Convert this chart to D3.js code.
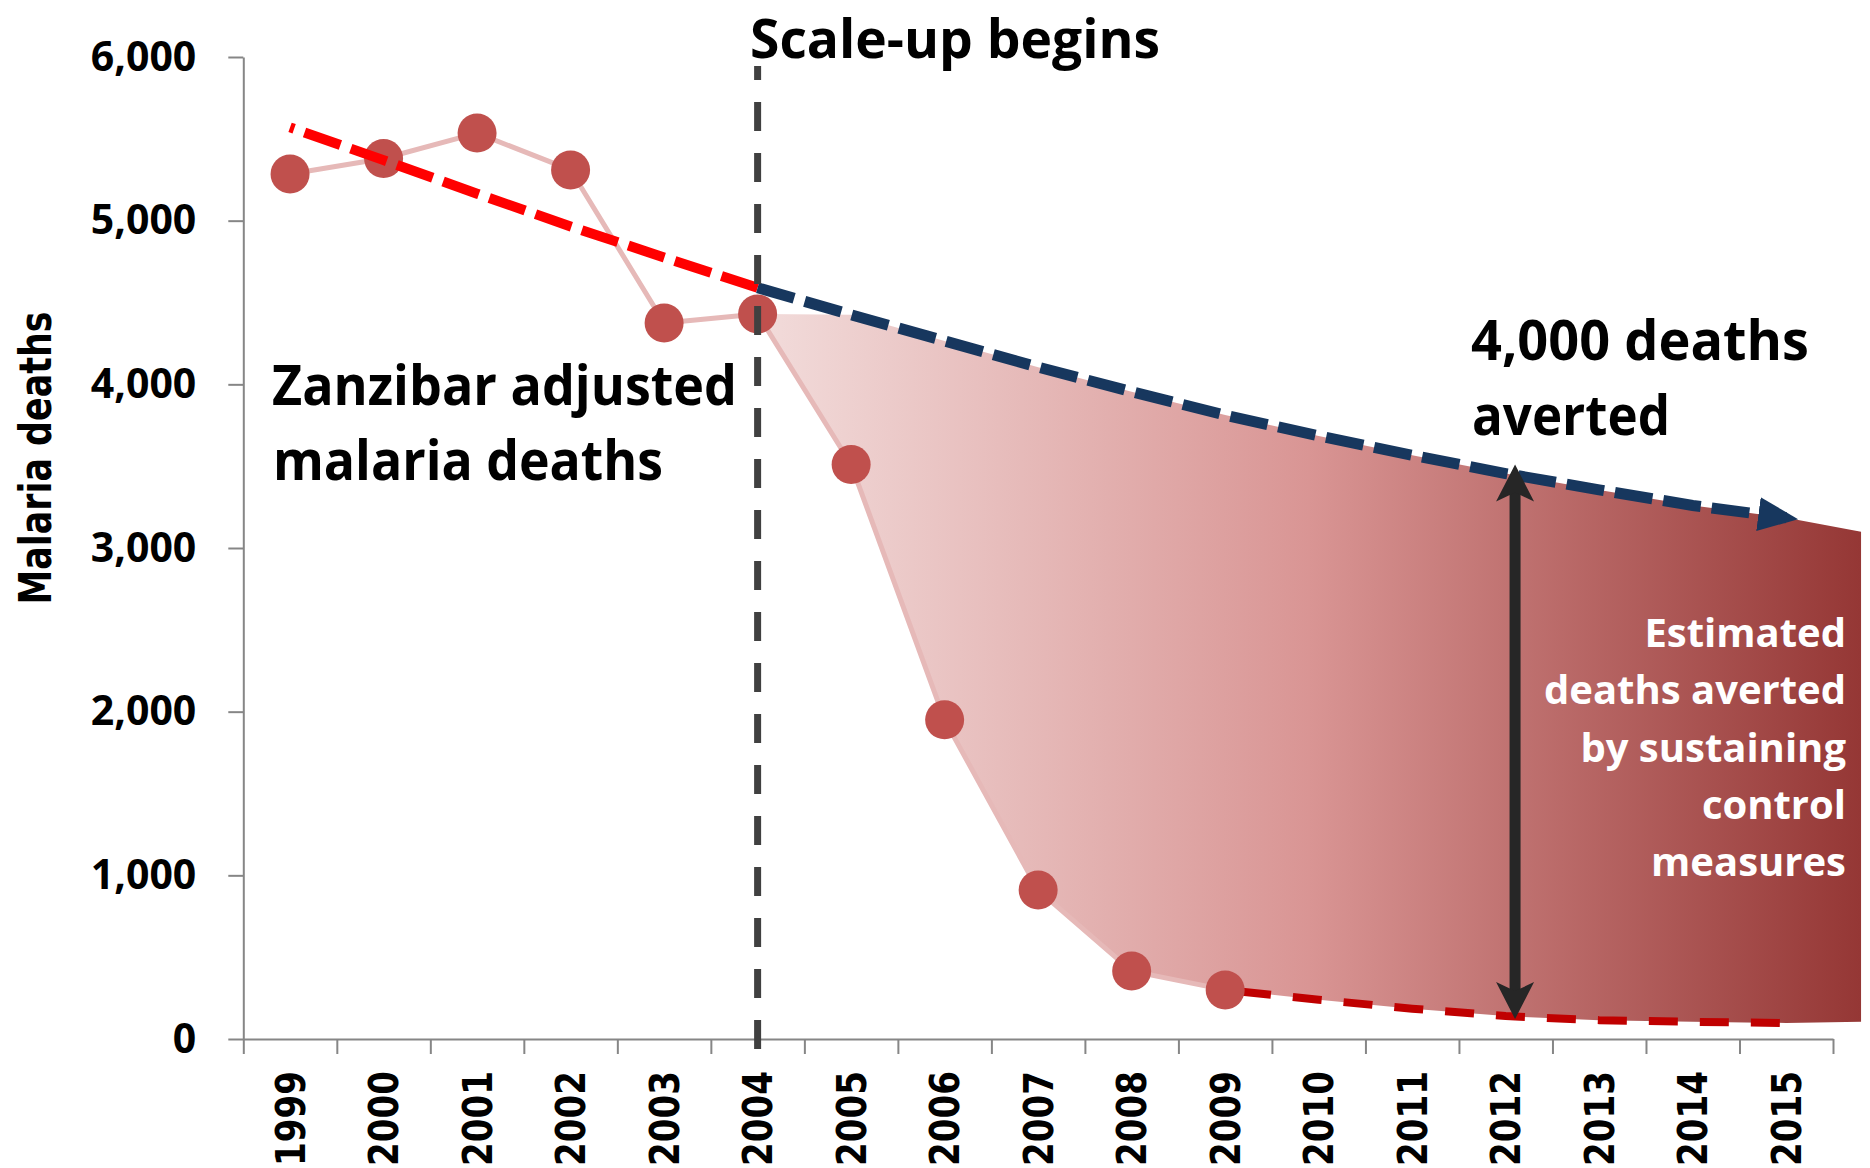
<!DOCTYPE html>
<html>
<head>
<meta charset="utf-8">
<title>Zanzibar adjusted malaria deaths</title>
<script src="https://cdn.jsdelivr.net/npm/d3@7"></script>
<style>
  html, body { margin: 0; padding: 0; background: #fff; overflow: hidden; }
  svg { display: block; }
  .note { font-family: 'Open Sans', sans-serif; font-weight: 700; }
  .axis text { font-family: 'Open Sans', sans-serif; font-weight: 700; fill: #000; }
  .axis line, .axis path { stroke: #868686; stroke-width: 2; }
</style>
</head>
<body>
<div id="chart"></div>
<script>
// categories
const years = [1999, 2000, 2001, 2002, 2003, 2004, 2005, 2006, 2007,
               2008, 2009, 2010, 2011, 2012, 2013, 2014, 2015];
const yTicks = [0, 1000, 2000, 3000, 4000, 5000, 6000];

// observed (adjusted) malaria deaths
const observedYears = [1999, 2000, 2001, 2002, 2003, 2004, 2005, 2006, 2007, 2008, 2009];
const observedDeaths = [5285, 5380, 5535, 5310, 4375, 4430, 3510, 1950, 910, 415, 300];

// pre scale-up trend (red dashed)
const trendYears = [1999, 2000, 2001, 2002, 2003, 2004];
const trendDeaths = [5570, 5370, 5165, 4965, 4775, 4590];

// projected trend without control (blue dashed)
const projYears = [2004, 2005, 2006, 2007, 2008, 2009, 2010, 2011, 2012, 2013, 2014, 2015];
const projDeaths = [4590, 4425, 4265, 4105, 3955, 3812, 3685, 3567, 3455, 3355, 3260, 3185];

// sustained control (dark red dashed)
const sustainYears = [2009, 2010, 2011, 2012, 2013, 2014, 2015];
const sustainDeaths = [300, 240, 185, 140, 115, 105, 98];

// right edge of the shaded band
const edgeYear = 2015.8;
const edgeHigh = 3100;
const edgeLow = 105;

const W = 1870, H = 1168;

const svg = d3.select('#chart').append('svg')
    .attr('width', W)
    .attr('height', H);

const x = d3.scaleLinear()
    .domain([years[0] - 0.5, years[years.length - 1] + 0.5])
    .range([243.3, 1833]);
const y = d3.scaleLinear().domain([0, 6000]).range([1039, 57]);
const step = x(1) - x(0);

const zip = (ks, vs) => ks.map((k, i) => ({year: k, v: vs[i]}));
const observed = zip(observedYears, observedDeaths);
const trend = zip(trendYears, trendDeaths);
const proj = zip(projYears, projDeaths);
const sustain = zip(sustainYears, sustainDeaths);

// gradient for the averted area
const defs = svg.append('defs');
const grad = defs.append('linearGradient')
    .attr('id', 'avertedFill')
    .attr('gradientUnits', 'userSpaceOnUse')
    .attr('x1', x(2004)).attr('x2', x(edgeYear))
    .attr('y1', 0).attr('y2', 0);
grad.append('stop').attr('offset', 0).attr('stop-color', '#F2DCDB');
grad.append('stop').attr('offset', 0.5).attr('stop-color', '#D99594');
grad.append('stop').attr('offset', 1).attr('stop-color', '#953735');

defs.append('marker')
    .attr('id', 'blueHead')
    .attr('markerUnits', 'userSpaceOnUse')
    .attr('viewBox', '0 -18 40 36')
    .attr('markerWidth', 40).attr('markerHeight', 36)
    .attr('refX', 28).attr('refY', 0)
    .attr('orient', 'auto')
    .append('path')
    .attr('d', 'M0,-17L40,0L0,17Z')
    .attr('fill', '#17375E');

// axes
const bounds = years.map(d => d - 0.5).concat([years[years.length - 1] + 0.5]);
svg.append('g')
    .attr('class', 'axis')
    .attr('transform', `translate(0,${y(0)})`)
    .call(d3.axisBottom(x).tickValues(bounds).tickFormat('').tickSize(15).tickSizeOuter(0));

const yAxis = svg.append('g')
    .attr('class', 'axis')
    .attr('transform', `translate(${x(years[0] - 0.5)},0)`)
    .call(d3.axisLeft(y).tickValues(yTicks).tickFormat(d3.format(',')).tickSize(15)
        .tickPadding(32).tickSizeOuter(0));
yAxis.selectAll('text').style('font-size', '41px');

// year labels, rotated, squeezed a little so they stay inside the picture
svg.append('g').selectAll('text')
    .data(years)
    .join('text')
    .attr('transform', d => `translate(${x(d) + 14.5},1071) rotate(-90)`)
    .attr('text-anchor', 'end')
    .attr('textLength', 95)
    .attr('lengthAdjust', 'spacingAndGlyphs')
    .style('font-family', "'DejaVu Sans', sans-serif")
    .style('font-weight', 700)
    .style('font-size', '40px')
    .text(d => d);

svg.append('text')
    .attr('transform', 'translate(51,458) rotate(-90)')
    .attr('text-anchor', 'middle')
    .attr('textLength', 293)
    .attr('lengthAdjust', 'spacingAndGlyphs')
    .style('font-family', "'DejaVu Sans', sans-serif")
    .style('font-weight', 700)
    .style('font-size', '44px')
    .text('Malaria deaths');

// shaded area between projection and sustained control
const fillPts = [];
observed.filter(d => d.year >= 2004).forEach(d => {
    const p = proj.find(q => q.year === d.year);
    fillPts.push({year: d.year, lo: d.v, hi: d.year === 2004 ? d.v : p.v});
});
sustain.filter(d => d.year > 2009).forEach(d => {
    fillPts.push({year: d.year, lo: d.v, hi: proj.find(q => q.year === d.year).v});
});
fillPts.push({year: edgeYear, lo: edgeLow, hi: edgeHigh});

svg.append('path')
    .datum(fillPts)
    .attr('fill', 'url(#avertedFill)')
    .attr('d', d3.area().x(d => x(d.year)).y0(d => y(d.lo)).y1(d => y(d.hi)));

const line = d3.line().x(d => x(d.year)).y(d => y(d.v));

// observed series
svg.append('path')
    .datum(observed)
    .attr('fill', 'none')
    .attr('stroke', '#E6B9B8')
    .attr('stroke-width', 5)
    .attr('stroke-linejoin', 'round')
    .attr('d', line);

svg.append('path')
    .datum(sustain)
    .attr('fill', 'none')
    .attr('stroke', '#C00000')
    .attr('stroke-width', 8)
    .attr('stroke-dasharray', '29,22')
    .attr('stroke-dashoffset', 34)
    .attr('d', line);

svg.append('g').selectAll('circle')
    .data(observed)
    .join('circle')
    .attr('cx', d => x(d.year))
    .attr('cy', d => y(d.v))
    .attr('r', 19.5)
    .attr('fill', '#C0504D');

// trend lines
svg.append('path')
    .datum(trend.slice().reverse())
    .attr('fill', 'none')
    .attr('stroke', '#FF0000')
    .attr('stroke-width', 10)
    .attr('stroke-dasharray', '38,11')
    .attr('d', line);

svg.append('path')
    .datum(proj)
    .attr('fill', 'none')
    .attr('stroke', '#17375E')
    .attr('stroke-width', 11)
    .attr('stroke-dasharray', '38,11')
    .attr('marker-end', 'url(#blueHead)')
    .attr('d', line);

// scale-up marker
svg.append('line')
    .attr('x1', x(2004)).attr('x2', x(2004))
    .attr('y1', 66).attr('y2', 1056)
    .attr('stroke', '#404040')
    .attr('stroke-width', 7)
    .attr('stroke-dasharray', '29,22')
    .attr('stroke-dashoffset', 15);

// deaths averted double arrow at 2012
const ax = x(2012) + step * 0.1;
const aTop = y(projDeaths[projYears.indexOf(2012)]) - 9;
const aBot = y(sustainDeaths[sustainYears.indexOf(2012)]) + 3;
svg.append('line')
    .attr('x1', ax).attr('x2', ax)
    .attr('y1', aTop + 26).attr('y2', aBot - 26)
    .attr('stroke', '#262626')
    .attr('stroke-width', 11);
svg.append('path')
    .attr('fill', '#262626')
    .attr('d', `M${ax},${aTop}L${ax - 19},${aTop + 37}L${ax},${aTop + 28}L${ax + 19},${aTop + 37}Z`);
svg.append('path')
    .attr('fill', '#262626')
    .attr('d', `M${ax},${aBot}L${ax - 19},${aBot - 37}L${ax},${aBot - 28}L${ax + 19},${aBot - 37}Z`);

// annotations (width fitted to the narrower original face)
const note = (tx, ty, size, len, str) => svg.append('text').attr('class', 'note')
    .attr('x', tx).attr('y', ty)
    .attr('textLength', len)
    .attr('lengthAdjust', 'spacingAndGlyphs')
    .style('font-size', size + 'px')
    .text(str);

note(750, 58, 54, 410, 'Scale-up begins');
note(272, 405, 56, 465, 'Zanzibar adjusted');
note(273, 480, 56, 390, 'malaria deaths');
note(1471, 360, 56, 338, '4,000 deaths');
note(1472, 435, 56, 198, 'averted');

const whiteLines = ['Estimated', 'deaths averted', 'by sustaining', 'control', 'measures'];
svg.append('text').attr('class', 'note')
    .attr('text-anchor', 'end')
    .style('font-size', '40px')
    .attr('fill', '#fff')
    .selectAll('tspan')
    .data(whiteLines)
    .join('tspan')
    .attr('x', 1846)
    .attr('y', (d, i) => 647 + i * 57.3)
    .text(d => d);
</script>
</body>
</html>
